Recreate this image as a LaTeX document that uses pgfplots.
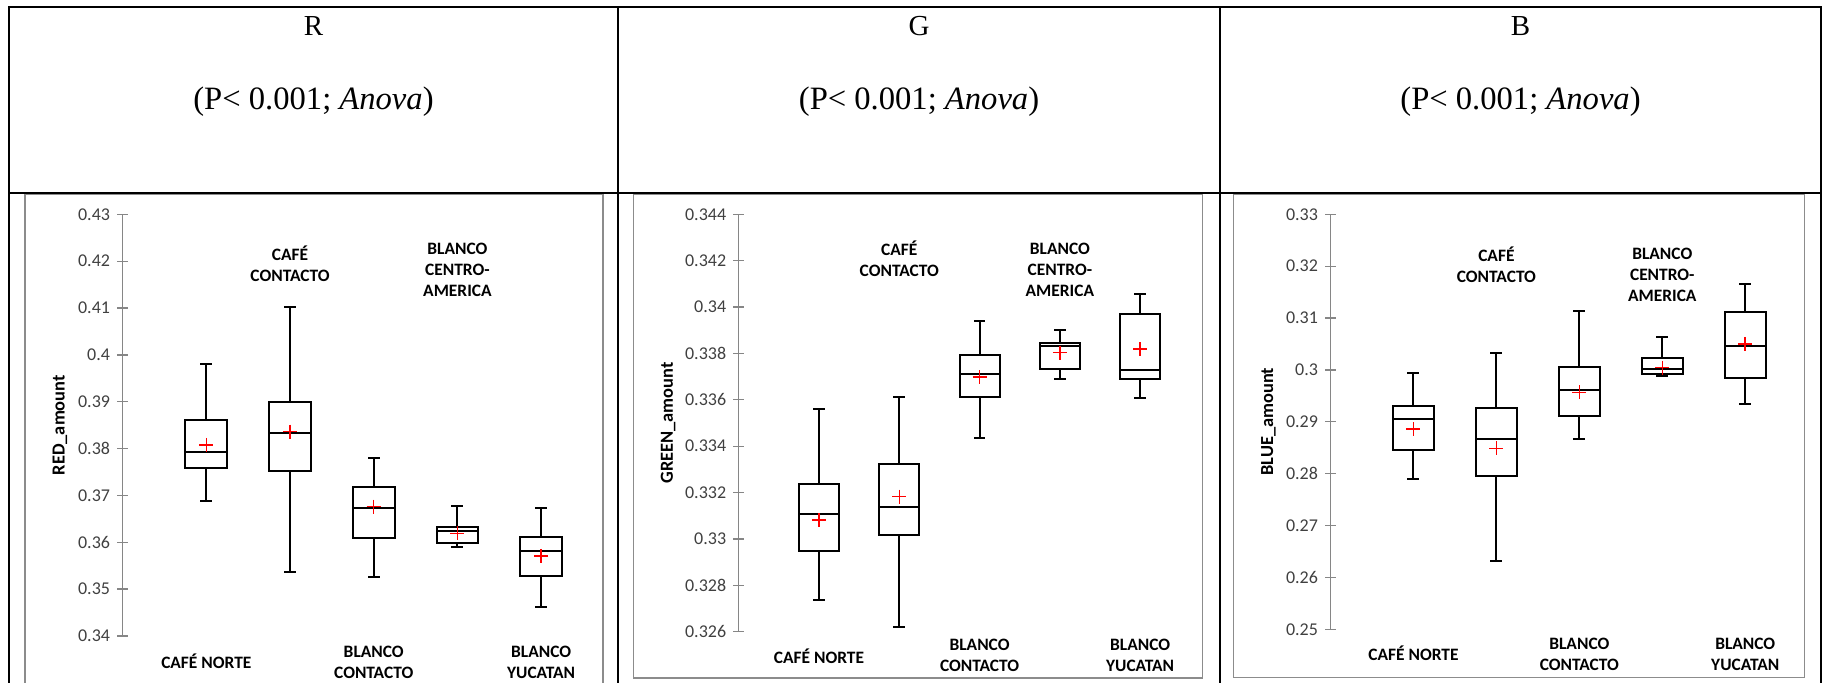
\documentclass[border=0pt]{standalone}
\usepackage{fontspec}
\setmainfont{Liberation Serif}
\newfontfamily\carlito{Carlito}
\usepackage{pgfplots}
\pgfplotsset{compat=1.18}
\definecolor{framegray}{HTML}{8C8C8C}
\definecolor{axisgray}{HTML}{868686}
\definecolor{ticktext}{HTML}{404040}
\pgfplotsset{
  panel/.style={
    scale only axis, clip=false,
    xmin=0, xmax=5.5, enlargelimits=false,
    axis x line=none, axis y line*=left, xtick=\empty,
    y axis line style={draw=axisgray, line width=0.65pt},
    ytick style={draw=axisgray, line width=0.65pt},
    major tick length=5.5pt, tick align=center,
    yticklabel style={font=\carlito\fontsize{9}{10.8}\selectfont, text=ticktext,
      /pgf/number format/fixed, /pgf/number format/precision=3},
    /pgf/number format/assume math mode=true,
  },
  bx/.style={draw=black, line width=1pt, solid, mark=none, line cap=rect, line join=miter},
  meanmk/.style={only marks, mark=+, color=red, mark size=3.5pt, mark options={line width=0.75pt}},
}
\tikzset{
  catlab/.style={font=\carlito\bfseries\fontsize{8.7}{10.5}\selectfont, align=center, text=black, inner sep=0pt},
  ylab/.style={rotate=90, font=\carlito\bfseries\fontsize{9.2}{11}\selectfont, inner sep=0pt},
}
% box: #1 position, #2 lower whisker, #3 lower quartile, #4 median, #5 upper quartile, #6 upper whisker
\newcommand{\bxp}[6]{%
  \pgfmathsetmacro\bxL{#1-0.25}\pgfmathsetmacro\bxR{#1+0.25}%
  \pgfmathsetmacro\bxCL{#1-0.06}\pgfmathsetmacro\bxCR{#1+0.06}%
  \edef\bxDoit{%
    \noexpand\addplot[bx] coordinates {(\bxL,#3) (\bxR,#3) (\bxR,#5) (\bxL,#5) (\bxL,#3)};
    \noexpand\addplot[bx] coordinates {(\bxL,#4) (\bxR,#4)};
    \noexpand\addplot[bx] coordinates {(#1,#5) (#1,#6)};
    \noexpand\addplot[bx] coordinates {(#1,#3) (#1,#2)};
    \noexpand\addplot[bx] coordinates {(\bxCL,#6) (\bxCR,#6)};
    \noexpand\addplot[bx] coordinates {(\bxCL,#2) (\bxCR,#2)};
  }\bxDoit}
\begin{document}
\begin{tikzpicture}
\useasboundingbox (0,0) rectangle (912.5pt,341.5pt);
\clip (0,0) rectangle (912.5pt,341.5pt);
% table lines
\draw[line width=1pt] (4.5pt,-5pt) -- (4.5pt,338pt) -- (910.5pt,338pt) -- (910.5pt,-5pt);
\draw[line width=1pt] (4.5pt,245.15pt) -- (910.5pt,245.15pt);
\draw[line width=1pt] (309pt,-5pt) -- (309pt,338pt);
\draw[line width=1pt] (610pt,-5pt) -- (610pt,338pt);
% grey frames
\draw[framegray, line width=0.75pt] (12.5pt,-5pt) rectangle (301.5pt,244.25pt);
\draw[framegray, line width=0.75pt] (316.65pt,2.5pt) rectangle (601.2pt,244.25pt);
\draw[framegray, line width=0.75pt] (616.85pt,2.75pt) rectangle (902.2pt,244.25pt);
% titles
\node[anchor=base, font=\fontsize{14.5}{17}\selectfont] at (156.75pt,323.5pt) {R};
\node[anchor=base, font=\fontsize{16.3}{19}\selectfont] at (156.75pt,286.5pt) {(P< 0.001; \textit{Anova})};
\node[anchor=base, font=\fontsize{14.5}{17}\selectfont] at (459.5pt,323.5pt) {G};
\node[anchor=base, font=\fontsize{16.3}{19}\selectfont] at (459.5pt,286.5pt) {(P< 0.001; \textit{Anova})};
\node[anchor=base, font=\fontsize{14.5}{17}\selectfont] at (760.25pt,323.5pt) {B};
\node[anchor=base, font=\fontsize{16.3}{19}\selectfont] at (760.25pt,286.5pt) {(P< 0.001; \textit{Anova})};

% ---------- RED ----------
\begin{axis}[panel, at={(61.3pt,23.5pt)}, anchor=south west, width=230.2pt, height=210.85pt,
  ymin=0.34, ymax=0.43, ytick={0.34,0.35,0.36,0.37,0.38,0.39,0.4,0.41,0.42,0.43}]
\bxp{1}{0.3689}{0.3758}{0.3793}{0.3861}{0.3981}
\bxp{2}{0.3537}{0.3752}{0.3834}{0.3899}{0.4102}
\bxp{3}{0.3525}{0.3610}{0.3674}{0.3719}{0.3779}
\bxp{4}{0.3590}{0.3598}{0.3625}{0.3632}{0.3678}
\bxp{5}{0.3461}{0.3527}{0.3581}{0.3612}{0.3673}
\addplot[meanmk] coordinates {(1,0.3808) (2,0.3836) (3,0.3676) (4,0.3619) (5,0.3571)};
\node[catlab] at ([yshift=-12.5pt]axis cs:1,0.34) {CAFÉ NORTE};
\node[catlab] at ([yshift=-24.75pt]axis cs:2,0.43) {CAFÉ\\CONTACTO};
\node[catlab] at ([yshift=-13.25pt]axis cs:3,0.34) {BLANCO\\CONTACTO};
\node[catlab] at ([yshift=-27.85pt]axis cs:4,0.43) {BLANCO\\CENTRO-\\AMERICA};
\node[catlab] at ([yshift=-13.25pt]axis cs:5,0.34) {BLANCO\\YUCATAN};
\node[ylab] at ([xshift=-31.3pt]axis description cs:0,0.5) {RED\_amount};
\end{axis}

% ---------- GREEN (values stored x100) ----------
\begin{axis}[panel, at={(369.35pt,25.65pt)}, anchor=south west, width=220.8pt, height=208.7pt,
  ymin=32.6, ymax=34.4, ytick={32.6,32.8,33.0,33.2,33.4,33.6,33.8,34.0,34.2,34.4},
  yticklabels={0.326,0.328,0.33,0.332,0.334,0.336,0.338,0.34,0.342,0.344}]
\bxp{1}{32.737}{32.949}{33.106}{33.236}{33.559}
\bxp{2}{32.622}{33.016}{33.138}{33.322}{33.614}
\bxp{3}{33.437}{33.614}{33.710}{33.795}{33.940}
\bxp{4}{33.688}{33.732}{33.834}{33.847}{33.901}
\bxp{5}{33.606}{33.688}{33.727}{33.972}{34.055}
\addplot[meanmk] coordinates {(1,33.082) (2,33.182) (3,33.698) (4,33.803) (5,33.819)};
\node[catlab] at ([yshift=-12.15pt]axis cs:1,32.6) {CAFÉ NORTE};
\node[catlab] at ([yshift=-22.25pt]axis cs:2,34.4) {CAFÉ\\CONTACTO};
\node[catlab] at ([yshift=-11.9pt]axis cs:3,32.6) {BLANCO\\CONTACTO};
\node[catlab] at ([yshift=-27.7pt]axis cs:4,34.4) {BLANCO\\CENTRO-\\AMERICA};
\node[catlab] at ([yshift=-11.9pt]axis cs:5,32.6) {BLANCO\\YUCATAN};
\node[ylab] at ([xshift=-35.3pt]axis description cs:0,0.5) {GREEN\_amount};
\end{axis}

% ---------- BLUE ----------
\begin{axis}[panel, at={(665.25pt,26.85pt)}, anchor=south west, width=228.1pt, height=207.5pt,
  ymin=0.25, ymax=0.33, ytick={0.25,0.26,0.27,0.28,0.29,0.3,0.31,0.32,0.33}]
\bxp{1}{0.27897}{0.28456}{0.29054}{0.29305}{0.29935}
\bxp{2}{0.26316}{0.27955}{0.28675}{0.29260}{0.30320}
\bxp{3}{0.28675}{0.29118}{0.29620}{0.30057}{0.31143}
\bxp{4}{0.29883}{0.29915}{0.30024}{0.30237}{0.30641}
\bxp{5}{0.29337}{0.29844}{0.30468}{0.31111}{0.31657}
\addplot[meanmk] coordinates {(1,0.28861) (2,0.28488) (3,0.29568) (4,0.30045) (5,0.30500)};
\node[catlab] at ([yshift=-12pt]axis cs:1,0.25) {CAFÉ NORTE};
\node[catlab] at ([yshift=-25.1pt]axis cs:2,0.33) {CAFÉ\\CONTACTO};
\node[catlab] at ([yshift=-12.7pt]axis cs:3,0.25) {BLANCO\\CONTACTO};
\node[catlab] at ([yshift=-30.35pt]axis cs:4,0.33) {BLANCO\\CENTRO-\\AMERICA};
\node[catlab] at ([yshift=-12.7pt]axis cs:5,0.25) {BLANCO\\YUCATAN};
\node[ylab] at ([xshift=-31pt]axis description cs:0,0.5) {BLUE\_amount};
\end{axis}
\end{tikzpicture}
\end{document}
